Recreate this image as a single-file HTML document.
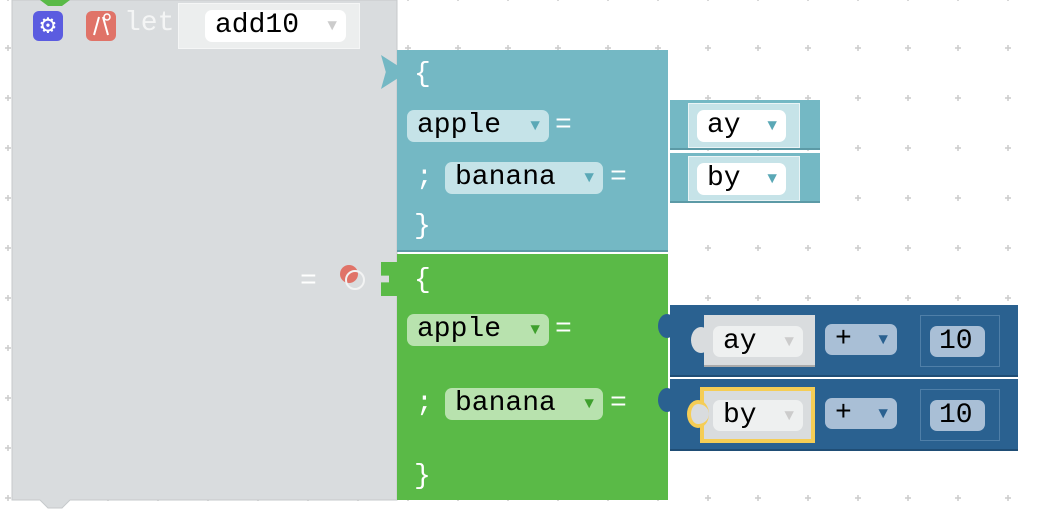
<!DOCTYPE html>
<html><head><style>
body{margin:0;width:1043px;height:524px;overflow:hidden;background:#fff;position:relative;font-family:"Liberation Mono",monospace}
.a{position:absolute;box-sizing:border-box}
.t{position:absolute;color:#fff;font-size:28px;line-height:32px}
.f{position:absolute;box-sizing:border-box;border-radius:7px;font-size:28px;line-height:32px;color:#000;padding-left:10px;white-space:nowrap}
.f i{position:absolute;right:9px;top:0;font-style:normal;font-size:16px}
</style></head><body>
<svg class="a" style="left:0;top:0" width="1043" height="524">
<defs><pattern id="g" x="3" y="43" width="50" height="50" patternUnits="userSpaceOnUse">
<path d="M5 2v6M2 5h6" stroke="#ccc" stroke-width="1.5"/></pattern></defs>
<rect width="1043" height="524" fill="url(#g)"/>
<path d="M12 0H397V500H70L62 508H48L40 500H12Z" fill="#d9dcde" stroke="#c6c9cb"/>
<path d="M40 0h30l-8 6h-14z" fill="#5aba47"/>
<rect x="86" y="11" width="30" height="30" rx="6" fill="#e07368"/>
<path d="M94 35l5-18M108 35l-5-18" stroke="#fff" stroke-width="2"/>
<circle cx="107" cy="17" r="3" fill="none" stroke="#fff" stroke-width="1.5"/>
</svg>
<div class="a" style="left:33px;top:11px;width:30px;height:30px;background:#5b5ce0;border-radius:6px;color:#fff;font-size:26px;text-align:center;line-height:30px">⚙</div>
<div class="t" style="left:124px;top:8px;color:#f4f5f5">let</div>
<div class="a" style="left:178px;top:3px;width:182px;height:46px;background:#eceeee;border:1px solid #f5f6f6"></div>
<div class="f" style="left:205px;top:10px;width:141px;height:32px;background:#fff">add10<i style="color:#ccc">▼</i></div>

<div class="a" style="left:397px;top:50px;width:271px;height:202px;background:#74b8c4;border-bottom:2px solid #5c9aa6"></div>
<div class="a" style="left:381px;top:55px;width:16px;height:34px;background:#74b8c4;clip-path:polygon(0 0,100% 30%,100% 70%,0 100%,30% 50%)"></div>
<div class="t" style="left:414px;top:59px">{</div>
<div class="f" style="left:407px;top:110px;width:142px;height:32px;background:#c5e3e8">apple<i style="color:#5aa8b6">▼</i></div>
<div class="t" style="left:555px;top:110px">=</div>
<div class="t" style="left:416px;top:162px">;</div>
<div class="f" style="left:445px;top:162px;width:158px;height:32px;background:#c5e3e8">banana<i style="color:#5aa8b6">▼</i></div>
<div class="t" style="left:610px;top:162px">=</div>
<div class="t" style="left:414px;top:211px">}</div>

<div class="a" style="left:670px;top:100px;width:150px;height:50px;background:#74b8c4;border-bottom:2px solid #5c9aa6"></div>
<div class="a" style="left:688px;top:103px;width:112px;height:45px;background:#c6e3e8;border:1px solid #eaf4f6"></div>
<div class="f" style="left:697px;top:110px;width:89px;height:32px;background:#fff">ay<i style="color:#5aa8b6">▼</i></div>
<div class="a" style="left:670px;top:153px;width:150px;height:50px;background:#74b8c4;border-bottom:2px solid #5c9aa6"></div>
<div class="a" style="left:688px;top:156px;width:112px;height:45px;background:#c6e3e8;border:1px solid #eaf4f6"></div>
<div class="f" style="left:697px;top:163px;width:89px;height:32px;background:#fff">by<i style="color:#5aa8b6">▼</i></div>

<div class="a" style="left:397px;top:254px;width:271px;height:246px;background:#5aba47"></div>
<div class="a" style="left:381px;top:262px;width:16px;height:34px;background:#5aba47;clip-path:polygon(0 0,100% 0,100% 100%,0 100%,0 60%,50% 60%,50% 40%,0 40%)"></div>
<div class="t" style="left:300px;top:266px">=</div>
<div class="a" style="left:340px;top:265px;width:18px;height:18px;border-radius:50%;background:#e07368"></div>
<div class="a" style="left:345px;top:270px;width:20px;height:20px;border-radius:50%;border:2px solid #f2f3f3"></div>
<div class="t" style="left:414px;top:265px">{</div>
<div class="f" style="left:407px;top:314px;width:142px;height:32px;background:#b8e2ae">apple<i style="color:#3fa02e">▼</i></div>
<div class="t" style="left:555px;top:314px">=</div>
<div class="t" style="left:416px;top:388px">;</div>
<div class="f" style="left:445px;top:388px;width:158px;height:32px;background:#b8e2ae">banana<i style="color:#3fa02e">▼</i></div>
<div class="t" style="left:610px;top:388px">=</div>
<div class="t" style="left:414px;top:461px">}</div>

<div class="a" style="left:670px;top:305px;width:348px;height:72px;background:#2a6190;border-bottom:2px solid #1f4d75"></div>
<div class="a" style="left:658px;top:314px;width:18px;height:24px;border-radius:50%;background:#2a6190"></div>
<div class="a" style="left:704px;top:315px;width:111px;height:52px;background:#d9dcde;border-bottom:2px solid #aaa"></div>
<div class="a" style="left:691px;top:327px;width:20px;height:26px;border-radius:50%;background:#d9dcde"></div>
<div class="f" style="left:713px;top:326px;width:90px;height:31px;background:#eef0f0">ay<i style="color:#ccc">▼</i></div>
<div class="f" style="left:825px;top:324px;width:72px;height:31px;background:#a9bfd6">+<i style="color:#2a6190">▼</i></div>
<div class="a" style="left:920px;top:315px;width:80px;height:52px;border:1px solid #4f7fa8"></div>
<div class="f" style="left:930px;top:326px;width:55px;height:31px;background:#a9bfd6;padding-left:9px">10</div>

<div class="a" style="left:670px;top:379px;width:348px;height:72px;background:#2a6190;border-bottom:2px solid #1f4d75"></div>
<div class="a" style="left:658px;top:388px;width:18px;height:24px;border-radius:50%;background:#2a6190"></div>
<div class="a" style="left:700px;top:387px;width:115px;height:56px;background:#d9dcde;border:4px solid #f5cd55"></div>
<div class="a" style="left:687px;top:400px;width:22px;height:28px;border-radius:50%;background:#d9dcde;border:4px solid #f5cd55;border-right:none;box-sizing:border-box"></div>
<div class="f" style="left:713px;top:400px;width:90px;height:31px;background:#eef0f0">by<i style="color:#ccc">▼</i></div>
<div class="f" style="left:825px;top:398px;width:72px;height:31px;background:#a9bfd6">+<i style="color:#2a6190">▼</i></div>
<div class="a" style="left:920px;top:389px;width:80px;height:52px;border:1px solid #4f7fa8"></div>
<div class="f" style="left:930px;top:400px;width:55px;height:31px;background:#a9bfd6;padding-left:9px">10</div>
</body></html>
